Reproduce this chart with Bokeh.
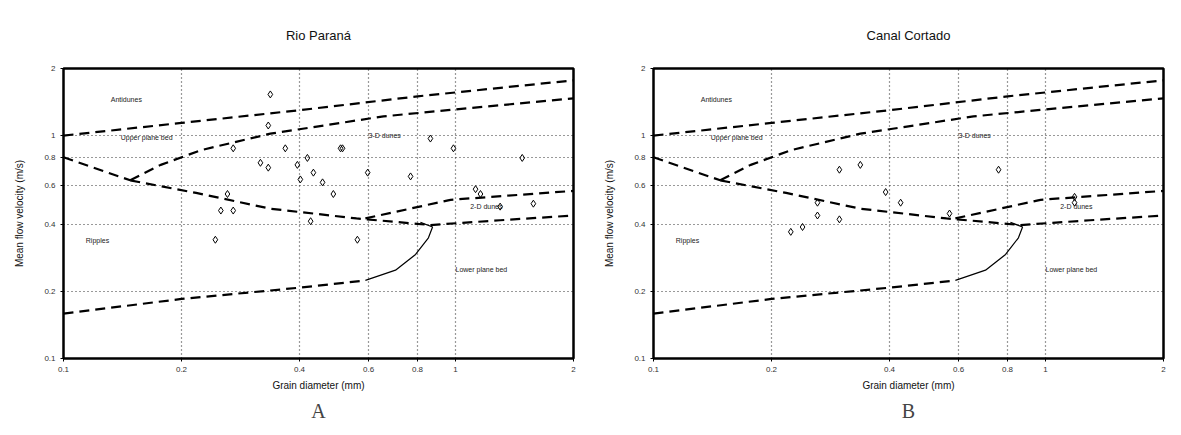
from bokeh.plotting import figure
from bokeh.layouts import row
from bokeh.models import FixedTicker, NumeralTickFormatter, Title
from bokeh.core.properties import value
from bokeh.embed import file_html
from bokeh.resources import INLINE

# ---- axes ----
x_ticks = [0.1, 0.2, 0.4, 0.6, 0.8, 1, 2]
y_ticks = [0.1, 0.2, 0.4, 0.6, 0.8, 1, 2]

# ---- bedform stability boundaries (grain size mm, velocity m/s) ----
antidune_x = [0.1, 0.2, 0.4, 0.8, 2.0]
antidune_y = [1.0, 1.14, 1.30, 1.50, 1.77]
upb_x = [0.148, 0.177, 0.224, 0.337, 0.655, 0.955, 2.0]
upb_y = [0.63, 0.739, 0.86, 1.02, 1.22, 1.30, 1.47]
ripple_upb_x = [0.1, 0.148]
ripple_upb_y = [0.80, 0.63]
ripple_dune_x = [0.148, 0.218, 0.337, 0.559, 0.863]
ripple_dune_y = [0.63, 0.553, 0.470, 0.425, 0.397]
dune_lpb_x = [0.863, 1.30, 2.0]
dune_lpb_y = [0.397, 0.417, 0.438]
dune2d3d_x = [0.589, 0.971, 2.0]
dune2d3d_y = [0.425, 0.515, 0.565]
threshold_x = [0.1, 0.2, 0.402, 0.589]
threshold_y = [0.159, 0.185, 0.208, 0.224]
ripple_lpb_x = [0.589, 0.703, 0.791, 0.853, 0.874, 0.814]
ripple_lpb_y = [0.224, 0.249, 0.293, 0.348, 0.389, 0.408]

# ---- region labels ----
label_text = ["Antidunes", "Upper plane bed", "3-D dunes", "2-D dunes", "Ripples", "Lower plane bed"]
label_x = [0.132, 0.14, 0.60, 1.09, 0.114, 1.0]
label_y = [1.45, 0.98, 1.0, 0.48, 0.337, 0.25]

# ---- observations ----
parana_d = [0.337, 0.333, 0.271, 0.368, 0.509, 0.395, 0.333, 0.318, 0.434, 0.458,
            0.488, 0.262, 0.252, 0.271, 0.427, 0.244, 0.419, 0.597, 0.768, 0.515,
            0.863, 0.988, 1.48, 1.158, 0.562, 1.30, 1.58, 1.125, 0.402]
parana_v = [1.53, 1.11, 0.877, 0.877, 0.877, 0.739, 0.718, 0.755, 0.682, 0.617,
            0.547, 0.547, 0.461, 0.461, 0.413, 0.341, 0.794, 0.682, 0.656, 0.877,
            0.97, 0.877, 0.794, 0.547, 0.341, 0.48, 0.495, 0.575, 0.636]
cortado_d = [0.298, 0.391, 0.427, 0.262, 0.262, 0.298, 0.24, 0.569, 0.759, 1.186,
             1.186, 0.224, 0.337]
cortado_v = [0.703, 0.558, 0.50, 0.50, 0.438, 0.421, 0.389, 0.447, 0.703, 0.531,
             0.50, 0.37, 0.739]

FONT = "Liberation Sans"


def make(title, px, py, letter, bl, br, off):
    p = figure(x_axis_type="log", y_axis_type="log", x_range=(0.1, 2), y_range=(0.1, 2),
               frame_width=510, frame_height=290, min_border_left=bl, min_border_right=br,
               min_border_top=68, min_border_bottom=70, output_backend="svg",
               toolbar_location=None, title=title)
    p.title.align = "center"
    p.title.vertical_align = "top"
    p.title.text_font = FONT
    p.title.text_font_size = "13px"
    p.title.text_font_style = "normal"
    p.title.text_color = "#111111"
    p.title.standoff = 48
    p.title.offset = off
    p.outline_line_color = "black"
    p.outline_line_width = 2.5
    p.outline_line_alpha = 1

    for ax, ticks in ((p.xaxis, x_ticks), (p.yaxis, y_ticks)):
        ax.ticker = FixedTicker(ticks=ticks)
        ax.formatter = NumeralTickFormatter(format="0.[0]")
        ax.axis_line_color = None
        ax.major_tick_in = 0
        ax.major_tick_out = 3
        ax.minor_tick_line_color = None
        ax.major_label_text_font = FONT
        ax.major_label_text_font_size = "8px"
        ax.major_label_text_color = "#333333"
        ax.axis_label_text_font = FONT
        ax.axis_label_text_font_size = "10px"
        ax.axis_label_text_font_style = "normal"
        ax.axis_label_text_color = "#111111"
    p.xaxis.axis_label = "Grain diameter (mm)"
    p.yaxis.axis_label = "Mean flow velocity (m/s)"
    p.xaxis.axis_label_standoff = 5
    p.yaxis.axis_label_standoff = 16

    p.xgrid.ticker = FixedTicker(ticks=x_ticks)
    p.ygrid.ticker = FixedTicker(ticks=y_ticks)
    for g in (p.xgrid, p.ygrid):
        g.grid_line_color = "black"
        g.grid_line_dash = "1 3"
        g.grid_line_width = 1.2
        g.grid_line_alpha = 0.8

    dashed = dict(line_color="black", line_width=2.2, line_dash="10 6")
    for xs, ys in ((antidune_x, antidune_y), (upb_x, upb_y), (ripple_upb_x, ripple_upb_y),
                   (ripple_dune_x, ripple_dune_y), (dune_lpb_x, dune_lpb_y),
                   (dune2d3d_x, dune2d3d_y), (threshold_x, threshold_y)):
        p.line(xs, ys, **dashed)
    p.line(ripple_lpb_x, ripple_lpb_y, line_color="black", line_width=1.2)

    p.text(x=label_x, y=label_y, text=label_text, text_font=value(FONT),
           text_font_size="7px", text_baseline="middle", text_align="left",
           text_color="#222222")

    p.scatter(px, py, marker="diamond", size=7, fill_color=None,
              line_color="black", line_width=1)

    p.add_layout(Title(text=letter, align="center", text_font="Liberation Serif",
                       text_font_size="20px", text_font_style="normal", offset=off,
                       standoff=8), "below")
    return p


p1 = make("Rio Paraná", parana_d, parana_v, "A", 63, 17, -19)
p2 = make("Canal Cortado", cortado_d, cortado_v, "B", 63, 10, -13)
layout = row(p1, p2)

open("out.html", "w").write(file_html(layout, INLINE))
